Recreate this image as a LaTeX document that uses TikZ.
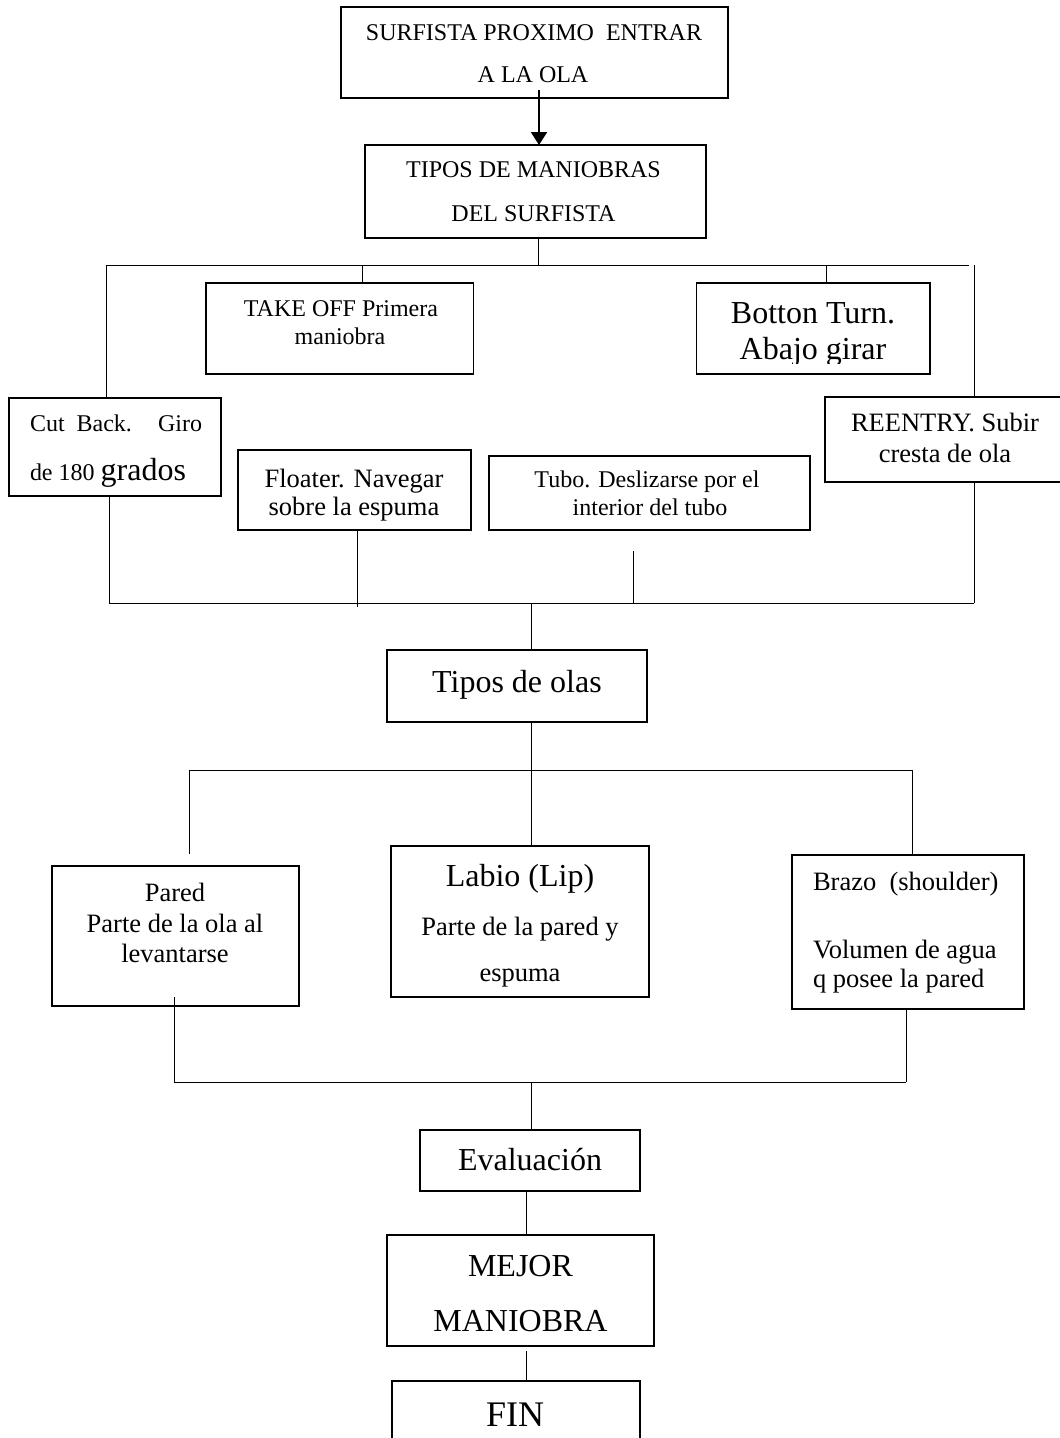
\documentclass[tikz,border=0pt]{standalone}
\usepackage{fontspec}
\setmainfont{Liberation Serif}
\usetikzlibrary{arrows.meta}
\tikzset{
  box/.style={draw, line width=1.2pt, inner sep=0pt, outer sep=0pt},
  conn/.style={line width=1pt},
  lbl/.style={anchor=base, inner sep=0pt, outer sep=0pt},
  lblw/.style={anchor=base west, inner sep=0pt, outer sep=0pt},
  fA/.style={font=\fontsize{24}{28}\selectfont},
  fB/.style={font=\fontsize{26.5}{30}\selectfont},
  fC/.style={font=\fontsize{32}{36}\selectfont},
  fD/.style={font=\fontsize{36}{40}\selectfont},
}
\begin{document}
\begin{tikzpicture}[x=1pt, y=-1pt]
\useasboundingbox (0,0) rectangle (1060,1438);
\clip (0,0) rectangle (1060,1438);
\fill[white] (0,0) rectangle (1060,1438);

% ---- boxes ----
\node[box, minimum width=387pt, minimum height=91pt] (b1) at (534.5,52.5) {};
\node[box, minimum width=341pt, minimum height=93pt] (b2) at (535.5,191.5) {};
\node[box, minimum width=267.5pt, minimum height=91pt] (takeoff) at (339.75,328.5) {};
\node[box, minimum width=233.4pt, minimum height=91pt] (botton) at (813.3,328.5) {};
\node[box, minimum width=212pt, minimum height=98pt] (cutback) at (115,447) {};
\node[box, minimum width=241pt, minimum height=85pt] (reentry) at (945.5,439.5) {};
\node[box, minimum width=233pt, minimum height=80pt] (floater) at (354.5,490) {};
\node[box, minimum width=321pt, minimum height=74pt] (tubo) at (649.5,493) {};
\node[box, minimum width=260pt, minimum height=72pt] (olas) at (517,686) {};
\node[box, minimum width=247pt, minimum height=140pt] (pared) at (175.5,936) {};
\node[box, minimum width=258pt, minimum height=151pt] (labio) at (520,921.5) {};
\node[box, minimum width=232pt, minimum height=154pt] (brazo) at (908,932) {};
\node[box, minimum width=220pt, minimum height=61pt] (eval) at (530,1160.5) {};
\node[box, minimum width=267pt, minimum height=111pt] (mejor) at (520.5,1290.5) {};
\node[box, minimum width=248pt, minimum height=89pt] (fin) at (516,1425.5) {};

% ---- texts ----
\node[lbl, fA] (b1t1) at (534,40.7) {SURFISTA PROXIMO\ \ ENTRAR};
\node[lbl, fA] (b1t2) at (533,82) {A LA OLA};
\node[lbl, fA] (b2t1) at (533.5,177.7) {TIPOS DE MANIOBRAS};
\node[lbl, fA] (b2t2) at (533.5,221.7) {DEL SURFISTA};
\node[lbl, fA] (tot1) at (341,316) {TAKE OFF Primera};
\node[lbl, fA] (tot2) at (340,344) {maniobra};
\begin{scope}
  \clip (696,283) rectangle (930,363);
  \node[lbl, fC] (btt1) at (813,323) {Botton Turn.};
  \node[lbl, fC] (btt2) at (813,359) {Abajo girar};
\end{scope}
\node[lblw, fA] (cbt1) at (30,431.7) {\makebox[172pt][s]{Cut Back. Giro}};
\node[lblw, fA] (cbt2) at (30,480) {de 180 {\fontsize{32}{36}\selectfont grados}};
\node[lbl, fB] (ret1) at (945,431.7) {REENTRY. Subir};
\node[lbl, fB] (ret2) at (945,462.3) {cresta de ola};
\node[lbl, fB] (flt1) at (354,487) {Floater. Navegar};
\node[lbl, fB] (flt2) at (354,515) {sobre la espuma};
\node[lbl, fA] (tut1) at (647,487.3) {Tubo. Deslizarse por el};
\node[lbl, fA] (tut2) at (650,515.7) {interior del tubo};
\node[lbl, fC] (olt1) at (517,692) {Tipos de olas};
\node[lbl, fB] (pat1) at (175,901) {Pared};
\node[lbl, fB] (pat2) at (175,932.3) {Parte de la ola al};
\node[lbl, fB] (pat3) at (175,962.3) {levantarse};
\node[lbl, fC] (lat1) at (520,886) {Labio (Lip)};
\node[lbl, fB] (lat2) at (520,935.7) {Parte de la pared y};
\node[lbl, fB] (lat3) at (520,981.7) {espuma};
\node[lblw, fB] (brt1) at (813,890) {Brazo\ \ (shoulder)};
\node[lblw, fB] (brt2) at (813,958.3) {Volumen de agua};
\node[lblw, fB] (brt3) at (813,987.7) {q posee la pared};
\node[lbl, fC] (evt1) at (530,1170.7) {Evaluación};
\node[lbl, fC] (met1) at (520.5,1276) {MEJOR};
\node[lbl, fC] (met2) at (520.5,1331) {MANIOBRA};
\node[lbl, fD] (fit1) at (515,1426) {FIN};

% ---- arrow ----
\coordinate (a0) at (539,90);
\draw[line width=2.2pt, -{Triangle[length=13pt,width=16pt]}] (a0) -- (a0 |- b2.north);

% ---- top bus ----
\coordinate (t0) at (538,265);
\coordinate (tL) at (106,265);
\coordinate (tR) at (969,265);
\coordinate (tTO) at (362,265);
\coordinate (tBT) at (826,265);
\coordinate (tRE) at (974,265);
\draw[conn] (tL) -- (tR);
\draw[conn] (b2.south -| t0) -- (t0);
\draw[conn] (tL) -- (tL |- cutback.north);
\draw[conn] (tTO) -- (tTO |- takeoff.north);
\draw[conn] (tBT) -- (tBT |- botton.north);
\draw[conn] (tRE) -- (tRE |- reentry.north);

% ---- middle bus ----
\coordinate (mL) at (109,603);
\coordinate (mR) at (974,603);
\coordinate (mC) at (531,603);
\coordinate (mFL) at (357,607);
\coordinate (mTU) at (633,603);
\coordinate (mTUtop) at (633,551);
\draw[conn] (mL) -- (mR);
\draw[conn] (mL |- cutback.south) -- (mL);
\draw[conn] (mFL |- floater.south) -- (mFL);
\draw[conn] (mTUtop) -- (mTU);
\draw[conn] (mR |- reentry.south) -- (mR);
\draw[conn] (mC) -- (mC |- olas.north);

% ---- waves bus ----
\coordinate (wL) at (189,770);
\coordinate (wR) at (912,770);
\coordinate (wC) at (531,770);
\coordinate (wLend) at (189,854);
\draw[conn] (wL) -- (wR);
\draw[conn] (olas.south -| wC) -- (wC |- labio.north);
\draw[conn] (wL) -- (wLend);
\draw[conn] (wR) -- (wR |- brazo.north);

% ---- lower bus ----
\coordinate (zL) at (174,1082);
\coordinate (zR) at (906,1082);
\coordinate (zC) at (531,1082);
\coordinate (zLtop) at (174,997);
\draw[conn] (zL) -- (zR);
\draw[conn] (zLtop) -- (zL);
\draw[conn] (zR |- brazo.south) -- (zR);
\draw[conn] (zC) -- (zC |- eval.north);

% ---- final chain ----
\coordinate (eX) at (526,1213);
\coordinate (fTop) at (526,1351);
\draw[conn] (eval.south -| eX) -- (eX |- mejor.north);
\draw[conn] (fTop) -- (fTop |- fin.north);
\end{tikzpicture}
\end{document}
